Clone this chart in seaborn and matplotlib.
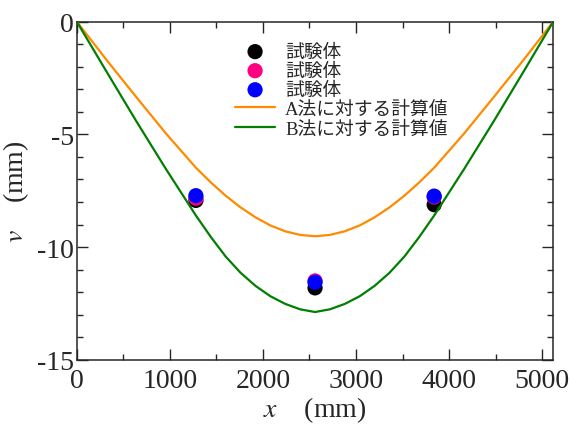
import matplotlib
matplotlib.use('Agg')
import matplotlib.pyplot as plt
import seaborn as sns
from matplotlib.ticker import MultipleLocator

# calculated deflection curves
x_calc = [0, 320, 640, 960, 1280, 1440, 1600, 1760, 1920, 2080, 2240, 2400, 2560,
          2720, 2880, 3040, 3200, 3360, 3520, 3680, 3840, 4160, 4480, 4800, 5120]
v_a = [0, -1.70, -3.35, -4.97, -6.48, -7.13, -7.72, -8.24, -8.68, -9.04, -9.30, -9.46, -9.52,
       -9.46, -9.30, -9.04, -8.68, -8.24, -7.72, -7.13, -6.48, -4.97, -3.35, -1.70, 0]
v_b = [0, -2.22, -4.42, -6.55, -8.60, -9.55, -10.42, -11.14, -11.72, -12.18, -12.52, -12.76, -12.88,
       -12.76, -12.52, -12.18, -11.72, -11.14, -10.42, -9.55, -8.60, -6.55, -4.42, -2.22, 0]

# test specimens
x_test = [1280, 2560, 3840]
v_test1 = [-7.93, -11.81, -8.12]
v_test2 = [-7.83, -11.50, -7.78]
v_test3 = [-7.72, -11.56, -7.74]

test_labels = ['試験体', '試験体', '試験体']
calc_labels = ['A法に対する計算値', 'B法に対する計算値']

sns.set_style('ticks')
plt.rcParams['font.family'] = ['Liberation Serif', 'Noto Sans CJK JP']
plt.rcParams['mathtext.fontset'] = 'stix'
plt.rcParams['axes.unicode_minus'] = False

fig = plt.figure(figsize=(5.73, 4.27), dpi=100)
ax = fig.add_axes([0.134, 0.155, 0.8316, 0.792])

for vals, col, lab in zip([v_test1, v_test2, v_test3],
                          ['black', '#ff0080', '#0000ff'], test_labels):
    sns.scatterplot(x=x_test, y=vals, ax=ax, color=col, s=120, edgecolor='none',
                    label=lab, zorder=2)

for vals, col, lab in zip([v_a, v_b], ['#ff8a00', '#007f00'], calc_labels):
    sns.lineplot(x=x_calc, y=vals, ax=ax, color=col, lw=1.6, label=lab,
                 sort=False, estimator=None, zorder=3)

ax.set_xlim(0, 5120)
ax.set_ylim(-15, 0)
ax.xaxis.set_major_locator(MultipleLocator(1000))
ax.xaxis.set_minor_locator(MultipleLocator(500))
ax.yaxis.set_major_locator(MultipleLocator(5))
ax.yaxis.set_minor_locator(MultipleLocator(1))
ax.tick_params(which='both', direction='in', top=True, right=True, width=1,
               labelsize=20)
ax.tick_params(axis='x', pad=6)
ax.tick_params(axis='y', pad=2)
ax.tick_params(which='major', length=8)
ax.tick_params(which='minor', length=4)
for sp in ax.spines.values():
    sp.set_linewidth(1.1)

ax.set_xlabel(r'$x$    (mm)', fontsize=20, labelpad=1)
ax.set_ylabel(r'$v$    (mm)', fontsize=20, labelpad=4)

handles, labels = ax.get_legend_handles_labels()
ax.legend(handles, labels, loc='upper left', bbox_to_anchor=(226 / 573, 1 - 35 / 427),
          bbox_transform=fig.transFigure, frameon=False, borderpad=0,
          labelspacing=0.1, handlelength=2.1, handletextpad=0.55,
          prop={'family': ['Liberation Serif', 'Noto Sans CJK JP'], 'size': 13.5})

fig.savefig('out.png', dpi=100)
